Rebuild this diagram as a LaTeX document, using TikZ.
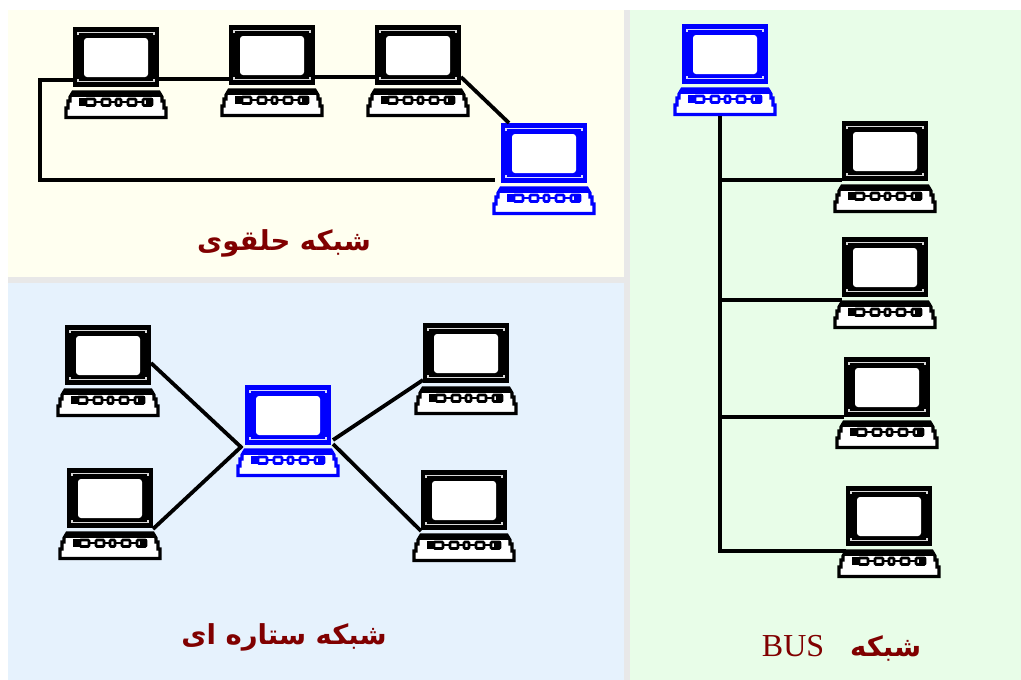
\documentclass[tikz,border=0pt]{standalone}
\usepackage{fontspec}
\usetikzlibrary{calc}
\TeXXeTstate=1
\newfontfamily\arabicfont[Script=Arabic]{DejaVu Sans}
\newfontfamily\latinserif{Liberation Serif}
\definecolor{ringbg}{HTML}{FFFFF0}
\definecolor{starbg}{HTML}{E6F2FD}
\definecolor{busbg}{HTML}{E8FDE8}
\definecolor{gapc}{HTML}{E8E8E8}
\definecolor{titlec}{HTML}{800000}
\tikzset{
  wire/.style={line width=3.8pt,black,line join=miter},
  screenbox/.style={draw=none,minimum width=86pt,minimum height=60pt,inner sep=0pt,outer sep=0pt},
  caption/.style={text=titlec,font=\arabicfont\bfseries\fontsize{27.5}{30}\selectfont,inner sep=0pt},
}
% name, centre x, top y, colour
\newcommand{\comp}[4]{%
  \begin{scope}[shift={(#2,#3)}]
    \node[screenbox,fill=#4] (#1) at (0,30) {};
    \fill[white,rounded corners=3pt] (-32,11) rectangle (32,50);
    \draw[white,opacity=.85,line width=1.1pt] (-38,8) -- (-38,5.5) -- (38,5.5) -- (38,8);
    \draw[white,opacity=.85,line width=1.1pt] (-38,52) -- (-38,54.5) -- (38,54.5) -- (38,52);
    \draw[#4,fill=white,line width=3.2pt,line join=miter]
      (-43,65) -- (43,65) -- (46,70) -- (46,74) -- (48,74) -- (48,81) -- (50,81) -- (50,90.4) -- (-50,90.4) -- (-50,81) -- (-48,81) -- (-48,74) -- (-46,74) -- (-46,70) -- cycle;
    \fill[#4] (-44,64) rectangle (44,69.5);
    \draw[#4,line width=2.6pt] (-37,75) -- (37,75);
    \draw[#4,fill=white,line width=2.6pt,rounded corners=1pt]
      (-30,72) rectangle (-21,78.5)
      (-14,72) rectangle (-6,78.5)
      (0,72) rectangle (5,78.5)
      (12,72) rectangle (20,78.5)
      (27,72) rectangle (36,78.5);
    \fill[#4] (-37,71) rectangle (-30,79);
    \fill[#4] (30,71) rectangle (37,79);
  \end{scope}}
\begin{document}
\begin{tikzpicture}[x=1pt,y=-1pt]
\useasboundingbox (0,0) rectangle (1021,680);
\fill[white] (0,0) rectangle (1021,680);
\fill[gapc] (8,277) rectangle (630,283);
\fill[gapc] (624,10) rectangle (630,680);
\fill[ringbg] (8,10) rectangle (624,277);
\fill[starbg] (8,283) rectangle (624,680);
\fill[busbg] (630,10) rectangle (1021,680);
% ring
\comp{r1}{116}{27}{black}
\comp{r2}{272}{25}{black}
\comp{r3}{418}{25}{black}
\comp{r0}{544}{123}{blue}
\coordinate (ringtl) at (40,80);
\coordinate (ringbl) at (40,180);
\draw[wire] ($(r1.south west)+(0,-7)$) -- (ringtl) -- (ringbl) -- ($(r0.south west)+(-6,-3)$);
\draw[wire] ($(r1.south east)+(0,-8)$) -- ($(r2.south west)+(0,-6)$);
\draw[wire] ($(r2.south east)+(0,-8)$) -- ($(r3.south west)+(0,-8)$);
\draw[wire] ($(r3.south east)+(0,-8)$) -- ($(r0.north west)+(8,0)$);
\node[caption] (ringt) at (284,243) {\beginR شبکه حلقوی\endR};
% star
\comp{s1}{108}{325}{black}
\comp{s2}{110}{468}{black}
\comp{s0}{288}{385}{blue}
\comp{s3}{466}{323}{black}
\comp{s4}{464}{470}{black}
\draw[wire] ($(s1.east)+(0,8)$) -- ($(s0.south west)+(-3,3)$);
\draw[wire] ($(s2.south east)+(0,1)$) -- ($(s0.south west)+(-3,1)$);
\draw[wire] ($(s0.south east)+(2,-5)$) -- ($(s3.south west)+(0,-3)$);
\draw[wire] ($(s0.south east)+(2,-1)$) -- ($(s4.south west)+(0,1)$);
\node[caption] (start) at (284,637) {\beginR شبکه ستاره ای\endR};
% bus
\comp{b0}{725}{24}{blue}
\comp{b1}{885}{121}{black}
\comp{b2}{885}{237}{black}
\comp{b3}{887}{357}{black}
\comp{b4}{889}{486}{black}
\coordinate (bustop) at ($(b0.south)+(-5,32)$);
\draw[wire] (bustop) -- (bustop |- b4.south);
\draw[wire] ($(b4.south west)+(0,5)$) -| (bustop);
\draw[wire] ($(b1.south west)+(0,-1)$) -- ($(bustop |- b1.south)+(0,-1)$);
\draw[wire] ($(b2.south west)+(0,3)$) -- ($(bustop |- b2.south)+(0,3)$);
\draw[wire] (b3.south west) -- (bustop |- b3.south);
\node[caption] (bust) at (841.5,648) {\beginR شبکه\hspace{26pt}\beginL{\latinserif\mdseries\fontsize{32}{34}\selectfont BUS}\endL\endR};
\end{tikzpicture}
\end{document}
